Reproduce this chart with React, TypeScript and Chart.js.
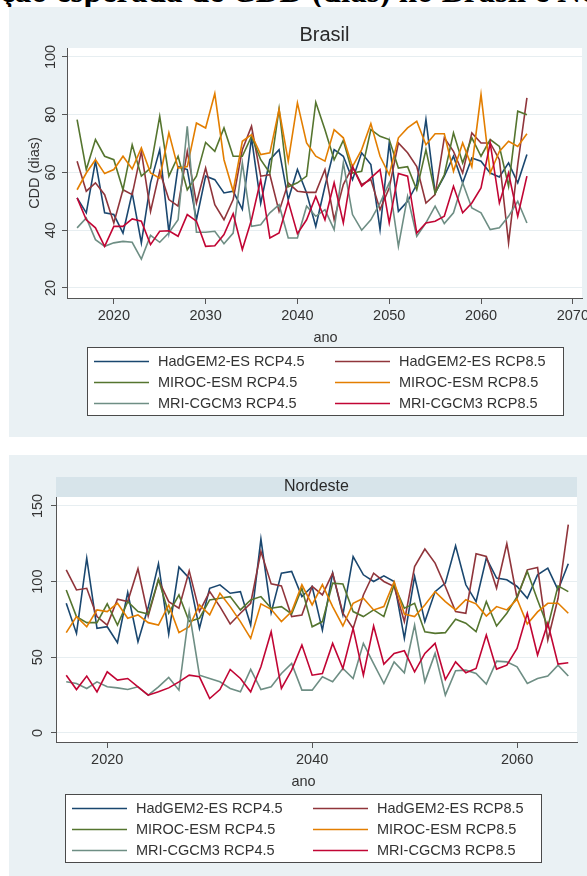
import React, { useEffect, useRef } from "react";
import { Chart, registerables } from "chart.js";

Chart.register(...registerables);

const FONT = "'Liberation Sans', Arial, Helvetica, sans-serif";
const TEXT = "#333333";
const AXIS = "#555555";

// ---------- data ----------
const years = [
  2016, 2017, 2018, 2019, 2020, 2021, 2022, 2023, 2024, 2025,
  2026, 2027, 2028, 2029, 2030, 2031, 2032, 2033, 2034, 2035,
  2036, 2037, 2038, 2039, 2040, 2041, 2042, 2043, 2044, 2045,
  2046, 2047, 2048, 2049, 2050, 2051, 2052, 2053, 2054, 2055,
  2056, 2057, 2058, 2059, 2060, 2061, 2062, 2063, 2064, 2065,
];

const seriesLabels = [
  "HadGEM2-ES RCP4.5",
  "HadGEM2-ES RCP8.5",
  "MIROC-ESM RCP4.5",
  "MIROC-ESM RCP8.5",
  "MRI-CGCM3 RCP4.5",
  "MRI-CGCM3 RCP8.5",
];
const seriesColors = ["#1a476f", "#90353b", "#55752f", "#e37e00", "#6e8e84", "#c10534"];

// Brasil
const brasilHad45 = [51.2, 46, 63.9, 46, 45.4, 39, 52.9, 35.6, 56.4, 67.9, 39.3, 62, 61, 43.6, 58.7, 57.5, 52.9, 53.5, 47.2, 72, 49.3, 64.4, 67.9, 50.6, 61, 52.9, 41.3, 55.2, 67.9, 65.6, 57.5, 66.8, 62.7, 40.2, 70.2, 46.5, 50, 55.8, 78.3, 52.9, 58.7, 65.6, 56.4, 65, 63.9, 59.8, 58.4, 63.3, 56.4, 66.2];
const brasilHad85 = [63.9, 53.5, 56.4, 52.3, 42.5, 54, 52.3, 67.3, 46.5, 60.4, 50.6, 48.3, 67.3, 49.4, 61.5, 48.8, 43.6, 50.6, 67.9, 76, 58.7, 59.2, 46.5, 56.4, 53.5, 53.1, 53.1, 61, 43.6, 55.8, 62, 55.8, 57.5, 47.1, 54.6, 70.2, 66.8, 62, 49.4, 52.3, 72, 67.3, 59.8, 73.7, 70.2, 70.2, 64.4, 35.6, 62.7, 85.8];
const brasilMiroc45 = [78.3, 61, 71.4, 65.6, 64.4, 54, 69.6, 58.7, 61.5, 79.4, 58.7, 65.6, 54, 58.7, 70.4, 67.3, 75.4, 65.6, 65.6, 72.5, 64.4, 59.8, 82, 55, 56.4, 58.7, 84.3, 74.8, 64.4, 71.1, 59.8, 60.4, 74.8, 72.5, 71.4, 61.5, 62, 54, 67.9, 52.8, 59.2, 73.7, 63.3, 72, 65.6, 71.4, 69, 55.2, 81.2, 80];
const brasilMiroc85 = [54, 59.8, 64.4, 59.6, 61, 65.6, 61.2, 68.5, 59.8, 58, 73.7, 61.5, 62, 77.1, 75.4, 87.3, 64.4, 53.5, 70.8, 73.1, 66.2, 66.8, 81.8, 63.9, 84.1, 70.2, 65.6, 63.9, 74.8, 72, 62, 67.9, 76.9, 65.6, 59.2, 72, 75.4, 77.7, 69.6, 73.4, 73.4, 60.4, 70.2, 62, 87, 59.8, 67.3, 70.8, 69, 73.4];
const brasilMri45 = [40.8, 44.2, 36.7, 34.4, 35.6, 36.1, 35.8, 30, 38.2, 35.8, 39.1, 43.6, 76, 39.3, 39.3, 39.6, 35.3, 39, 63.3, 41.3, 41.9, 46, 48.8, 37.3, 37.3, 48.3, 44.8, 47.1, 40.2, 63.3, 45.4, 40, 43.6, 49.4, 56.4, 34.4, 51.7, 37.9, 42.5, 48.3, 42.3, 46, 56.4, 47.7, 46, 40.2, 40.8, 44.8, 50, 42.5];
const brasilMri85 = [51.2, 43.6, 40.8, 34.4, 41.3, 41.3, 43.9, 43.1, 35, 39.6, 39.8, 37.9, 45.4, 43.1, 34.4, 34.6, 38.5, 45.7, 33.3, 43.6, 57.5, 37.3, 39, 50, 38.8, 43.6, 51.7, 43.6, 56.4, 42.5, 62, 55.2, 58.1, 61, 42.5, 59.6, 58.7, 39, 42.5, 43.1, 44.8, 55.2, 46, 49.4, 54.6, 70.2, 49.4, 59.8, 44.8, 58.7];

// Nordeste
const nordesteHad45 = [85.7, 65.8, 115.5, 69.1, 70.2, 59.6, 92.8, 60.3, 83, 111.8, 65.4, 109.6, 102.3, 69.1, 95.6, 97.9, 92.3, 93.4, 71.3, 128.1, 79.5, 105.6, 106.7, 90.1, 96.8, 68, 105.6, 78, 116.6, 104.5, 100.1, 103.8, 100.1, 62.5, 103.4, 73.6, 93.4, 99, 123.7, 97.9, 86.8, 115.5, 102.3, 101.2, 96.8, 89, 104.5, 108.9, 94.5, 111.8];
const nordesteHad85 = [107.8, 94.5, 95.6, 76.9, 71.3, 88.4, 86.8, 108.5, 77.3, 101.2, 86.8, 82.4, 107.1, 80.2, 93.4, 83.5, 72, 79.1, 85.7, 119.9, 98.5, 97.2, 76.9, 78, 96.8, 91.2, 105.6, 79.1, 69.1, 91.2, 105.6, 100.1, 96.8, 73.6, 110, 121.5, 112.2, 96.8, 80.2, 79.1, 118.4, 116.6, 95.6, 125, 89, 107.8, 109.3, 61.4, 89, 137.6];
const nordesteMiroc45 = [94.5, 76.9, 72.9, 72.9, 85.3, 71.3, 86.8, 80.2, 78.6, 101.6, 79.1, 91.2, 73.6, 75.8, 87.9, 89, 90.1, 81.3, 87.9, 90.1, 82.4, 83.5, 78.6, 95.6, 70.2, 73.6, 99, 98.5, 80.2, 76.9, 81.3, 76.9, 97.9, 82.4, 85.7, 66.9, 65.8, 66.3, 75.1, 72.5, 66.9, 86.8, 70.7, 79.1, 90.1, 106.7, 87.9, 70.2, 97.2, 93.4];
const nordesteMiroc85 = [66.3, 76.9, 70.2, 81.3, 80.2, 85.7, 75.8, 78, 72.9, 71.3, 84.6, 66.3, 70.2, 84.6, 78, 92.3, 83.5, 73.6, 62.5, 85.3, 81.7, 73.6, 80.2, 97.9, 84.6, 98, 83.5, 70.7, 85.7, 89, 81.3, 83.5, 99.9, 78.6, 76.9, 84.6, 93.4, 86.8, 81.3, 88, 85.3, 77.3, 83.5, 81.3, 88.4, 72, 80, 85.7, 85.7, 79.1];
const nordesteMri45 = [33.8, 32.7, 29.4, 33.8, 30.5, 29.8, 28.7, 30.5, 25, 30.5, 36.7, 28.3, 80.2, 38.2, 36, 33.8, 29.4, 27.2, 42, 28.7, 30.5, 39.3, 45.9, 28.3, 28.3, 37.1, 33.8, 42.6, 36, 59.2, 45.9, 32.7, 47, 39.8, 71.3, 33.8, 52.6, 25, 41.1, 41.5, 39.3, 32.3, 47.5, 47, 43.7, 32.7, 36, 37.6, 44.8, 37.6];
const nordesteMri85 = [38.2, 28.7, 37.6, 27.2, 40.4, 34.9, 36, 30.5, 25, 27.2, 29.8, 33.8, 38.2, 37.1, 22.8, 28.7, 42, 36, 27.2, 43.7, 66.9, 29.4, 41.5, 58.1, 38.2, 39.3, 59.2, 42.6, 69.1, 38.2, 70.7, 45.5, 52.6, 54.3, 40.4, 52.6, 59.2, 35.3, 47, 39.8, 42.6, 64.7, 42.2, 44.8, 55.9, 79.1, 51.5, 72.5, 45.5, 46.4];

const brasilXTicks = [2020, 2030, 2040, 2050, 2060, 2070];
const brasilYTicks = [20, 40, 60, 80, 100];
const nordesteXTicks = [2020, 2040, 2060];
const nordesteYTicks = [0, 50, 100, 150];

const brasilSeries = [brasilHad45, brasilHad85, brasilMiroc45, brasilMiroc85, brasilMri45, brasilMri85];
const nordesteSeries = [nordesteHad45, nordesteHad85, nordesteMiroc45, nordesteMiroc85, nordesteMri45, nordesteMri85];

// ---------- rendering ----------
const decoPlugin = {
  id: "panelDeco",
  beforeDraw(chart: any, _args: any, opts: any) {
    const { ctx, chartArea: a } = chart;
    ctx.save();
    ctx.fillStyle = "#ffffff";
    ctx.fillRect(a.left, a.top, a.right - a.left, a.bottom - a.top);
    if (opts.stripHeight) {
      ctx.fillStyle = opts.stripColor;
      ctx.fillRect(a.left, a.top - opts.stripHeight, a.right - a.left, opts.stripHeight);
    }
    ctx.restore();
  },
  afterDraw(chart: any, _args: any, opts: any) {
    const { ctx, chartArea: a } = chart;
    const L = opts.legendLeft;
    const T = opts.legendTop;
    const W = 477;
    const H = 69;
    ctx.save();
    ctx.fillStyle = "#ffffff";
    ctx.fillRect(L, T, W, H);
    ctx.strokeStyle = "#4a4a4a";
    ctx.lineWidth = 1;
    ctx.strokeRect(L + 0.5, T + 0.5, W - 1, H - 1);
    ctx.font = `14.5px ${FONT}`;
    ctx.textBaseline = "middle";
    chart.data.datasets.forEach((ds: any, i: number) => {
      const col = i % 2;
      const row = Math.floor(i / 2);
      const x0 = L + 7 + col * 241;
      const y = T + 14.5 + row * 21;
      ctx.strokeStyle = ds.borderColor;
      ctx.lineWidth = 1.6;
      ctx.beginPath();
      ctx.moveTo(x0, y);
      ctx.lineTo(x0 + 55, y);
      ctx.stroke();
      ctx.fillStyle = TEXT;
      ctx.textAlign = "left";
      ctx.fillText(ds.label, x0 + 64, y + 0.5);
    });
    ctx.fillStyle = TEXT;
    ctx.textAlign = "center";
    ctx.fillText(opts.xTitle, L + W / 2, a.bottom + 40);
    ctx.restore();
  },
};

type Spec = {
  title: string;
  titleSize: number;
  titlePad: { top: number; bottom: number };
  series: number[][];
  xMin: number;
  xMax: number;
  yMin: number;
  yMax: number;
  xTicks: number[];
  yTicks: number[];
  yWidth: number;
  yTickPad: number;
  yTitle: string | null;
  padRight: number;
  padBottom: number;
  legendLeft: number;
  legendTop: number;
  strip: boolean;
};

function buildConfig(s: Spec): any {
  const datasets = s.series.map((vals, i) => ({
    label: seriesLabels[i],
    data: years.map((yr, j) => ({ x: yr, y: vals[j] })),
    borderColor: seriesColors[i],
    backgroundColor: seriesColors[i],
    borderWidth: 1.6,
    pointRadius: 0,
    tension: 0,
    fill: false,
    order: s.series.length - 1 - i,
  }));
  return {
    type: "line",
    data: { datasets },
    plugins: [decoPlugin],
    options: {
      animation: false,
      responsive: false,
      maintainAspectRatio: false,
      devicePixelRatio: 1,
      events: [],
      layout: { padding: { left: 0, right: s.padRight, top: 0, bottom: s.padBottom } },
      plugins: {
        legend: { display: false },
        tooltip: { enabled: false },
        title: {
          display: true,
          text: s.title,
          fullSize: false,
          color: "#2a2a2a",
          font: { family: FONT, size: s.titleSize, weight: "normal", lineHeight: 1.2 },
          padding: s.titlePad,
        },
        panelDeco: {
          legendLeft: s.legendLeft,
          legendTop: s.legendTop,
          xTitle: "ano",
          stripHeight: s.strip ? 20 : 0,
          stripColor: "#d7e4ea",
        },
      },
      scales: {
        x: {
          type: "linear",
          min: s.xMin,
          max: s.xMax,
          afterBuildTicks: (sc: any) => {
            sc.ticks = s.xTicks.map((v) => ({ value: v }));
          },
          afterFit: (sc: any) => {
            sc.height = 50;
            sc.paddingLeft = 0;
            sc.paddingRight = 0;
          },
          grid: { drawOnChartArea: false, drawTicks: true, tickLength: 6, tickColor: AXIS, lineWidth: 1 },
          border: { display: true, color: AXIS, width: 1 },
          ticks: {
            color: TEXT,
            font: { family: FONT, size: 14.5 },
            padding: 3,
            maxRotation: 0,
            minRotation: 0,
            autoSkip: false,
            callback: (v: any) => String(v),
          },
          title: { display: false },
        },
        y: {
          type: "linear",
          min: s.yMin,
          max: s.yMax,
          afterBuildTicks: (sc: any) => {
            sc.ticks = s.yTicks.map((v) => ({ value: v }));
          },
          afterFit: (sc: any) => {
            sc.width = s.yWidth;
            sc.paddingTop = 0;
            sc.paddingBottom = 0;
          },
          grid: { drawOnChartArea: true, color: "#e7eef1", lineWidth: 1, drawTicks: true, tickLength: 5, tickColor: AXIS },
          border: { display: true, color: AXIS, width: 1 },
          ticks: {
            color: TEXT,
            font: { family: FONT, size: 14.5 },
            padding: s.yTickPad,
            minRotation: 90,
            maxRotation: 90,
            crossAlign: "center",
            autoSkip: false,
            callback: (v: any) => String(v),
          },
          title: s.yTitle
            ? {
                display: true,
                text: s.yTitle,
                color: TEXT,
                font: { family: FONT, size: 14.5 },
                padding: { top: 17, bottom: 0 },
              }
            : { display: false },
        },
      },
    },
  };
}

function ChartPanel(props: { spec: Spec; left: number; top: number; width: number; height: number }) {
  const ref = useRef<HTMLCanvasElement | null>(null);
  useEffect(() => {
    if (!ref.current) return;
    const chart = new Chart(ref.current, buildConfig(props.spec));
    return () => chart.destroy();
  }, []);
  return (
    <div
      style={{
        position: "absolute",
        left: props.left,
        top: props.top,
        width: props.width,
        height: props.height,
        background: "#eaf1f4",
      }}
    >
      <canvas
        ref={ref}
        width={props.width}
        height={props.height}
        style={{ display: "block", width: props.width, height: props.height }}
      />
    </div>
  );
}

const brasilSpec: Spec = {
  title: "Brasil",
  titleSize: 20,
  titlePad: { top: 16, bottom: 1 },
  series: brasilSeries,
  xMin: 2014.9,
  xMax: 2071,
  yMin: 16.5,
  yMax: 103.1,
  xTicks: brasilXTicks,
  yTicks: brasilYTicks,
  yWidth: 58,
  yTickPad: -1.5,
  yTitle: "CDD (dias)",
  padRight: 5,
  padBottom: 89,
  legendLeft: 78,
  legendTop: 340,
  strip: false,
};

const nordesteSpec: Spec = {
  title: "Nordeste",
  titleSize: 16,
  titlePad: { top: 22.4, bottom: 0.4 },
  series: nordesteSeries,
  xMin: 2015,
  xMax: 2065.85,
  yMin: -5.95,
  yMax: 155.9,
  xTicks: nordesteXTicks,
  yTicks: nordesteYTicks,
  yWidth: 47,
  yTickPad: 1,
  yTitle: null,
  padRight: 10,
  padBottom: 84,
  legendLeft: 56,
  legendTop: 339,
  strip: true,
};

if (typeof document !== "undefined") {
  document.body.style.margin = "0";
  document.body.style.background = "#ffffff";
}

export default function App() {
  return (
    <div style={{ position: "relative", width: 587, height: 876, overflow: "hidden", background: "#fff" }}>
      <div style={{ position: "absolute", left: 0, top: 0, width: 587, height: 7, overflow: "hidden" }}>
        <div
          style={{
            position: "absolute",
            left: 0,
            top: -25,
            whiteSpace: "nowrap",
            fontFamily: "'Liberation Serif', 'Times New Roman', serif",
            fontWeight: "bold",
            fontSize: 33,
            lineHeight: "33px",
            color: "#000",
          }}
        >
          ção esperada de CDD (dias) no Brasil e Nordeste
        </div>
      </div>
      <ChartPanel spec={brasilSpec} left={9} top={7} width={578} height={430} />
      <ChartPanel spec={nordesteSpec} left={9} top={455} width={578} height={421} />
    </div>
  );
}
